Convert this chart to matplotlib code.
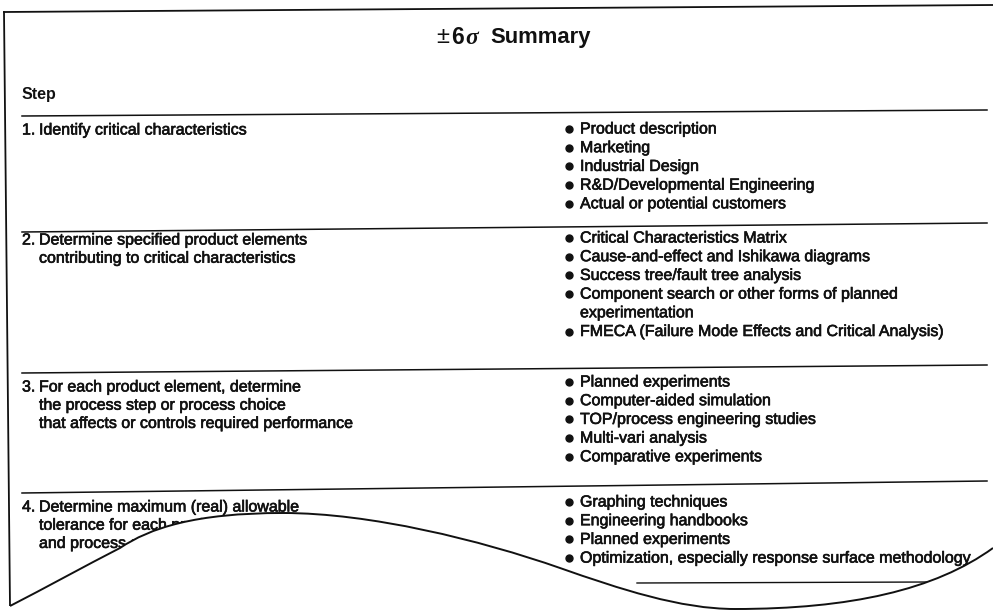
import matplotlib
matplotlib.use("Agg")
import matplotlib.pyplot as plt
import matplotlib.patheffects as pe
from matplotlib.path import Path
from matplotlib.patches import PathPatch

plt.rcParams["font.family"] = ["Liberation Sans", "DejaVu Sans"]

# ── table content ───────────────────────────────────────────────────────────
step_nums = ["1.", "2.", "3.", "4."]
step_texts = [
    ["Identify critical characteristics"],
    ["Determine specified product elements",
     "contributing to critical characteristics"],
    ["For each product element, determine",
     "the process step or process choice",
     "that affects or controls required performance"],
    ["Determine maximum (real) allowable",
     "tolerance for each product element",
     "and process step"],
]
tools = [
    ["Product description", "Marketing", "Industrial Design",
     "R&D/Developmental Engineering", "Actual or potential customers"],
    ["Critical Characteristics Matrix", "Cause-and-effect and Ishikawa diagrams",
     "Success tree/fault tree analysis",
     "Component search or other forms of planned\nexperimentation",
     "FMECA (Failure Mode Effects and Critical Analysis)"],
    ["Planned experiments", "Computer-aided simulation",
     "TOP/process engineering studies", "Multi-vari analysis",
     "Comparative experiments"],
    ["Graphing techniques", "Engineering handbooks", "Planned experiments",
     "Optimization, especially response surface methodology"],
]

# layout (pixel coordinates, y down)
W, H = 993, 610
left_y0 = [130, 240, 387, 507]     # first line of each step text
right_y0 = [129, 238, 382, 502]    # first bullet of each row
sep_lines = [((22, 116), (987, 110)),
             ((22, 232), (987, 223)),
             ((22, 373), (987, 365)),
             ((22, 493), (987, 481))]
lh_left, lh_right = 18.2, 18.7
fs = 11.5
ink = "#111111"
heavy = [pe.withStroke(linewidth=0.45, foreground=ink)]

fig = plt.figure(figsize=(W / 100, H / 100), dpi=100)
ax = fig.add_axes([0, 0, 1, 1])
ax.set_xlim(0, W)
ax.set_ylim(H, 0)
ax.axis("off")

# border
ax.plot([4, 993], [12, 5], color=ink, lw=1.3)
ax.plot([4, 10], [12, 606], color=ink, lw=1.3)

# title
ax.text(436, 37, "±", fontsize=17, va="center", ha="left", color=ink)
ax.text(451, 37, "6", fontsize=16.5, fontweight="bold", va="center", ha="left", color=ink)
ax.text(465, 38, "σ", fontsize=17, fontweight="bold", fontstyle="italic",
        family=["Liberation Serif"], va="center", ha="left", color=ink)
ax.text(490, 37, "Summary", fontsize=15.8, fontweight="bold", va="center", ha="left", color=ink)

ax.text(22, 94, "Step", fontsize=fs, fontweight="bold", va="center", color=ink)

for (x0, y0), (x1, y1) in sep_lines:
    ax.plot([x0, x1], [y0, y1], color=ink, lw=1.1)

for i, num in enumerate(step_nums):
    ax.text(22, left_y0[i], num, fontsize=fs, va="center", color=ink, path_effects=heavy)
    for j, line in enumerate(step_texts[i]):
        ax.text(39, left_y0[i] + j * lh_left, line, fontsize=fs, va="center",
                color=ink, path_effects=heavy)
    k = 0
    for item in tools[i]:
        ax.plot(569, right_y0[i] + k * lh_right, "o", color=ink, markersize=5)
        for part in item.split("\n"):
            ax.text(580, right_y0[i] + k * lh_right, part, fontsize=fs,
                    va="center", color=ink, path_effects=heavy)
            k += 1

# short rule under the last row
ax.plot([637, 930], [583, 582], color=ink, lw=1.0)

# torn bottom edge
verts = [(10, 606),
         (45, 588), (85, 566), (120, 548),
         (150, 528), (195, 513), (283, 513),
         (370, 513), (480, 540), (560, 568),
         (620, 589), (680, 609), (735, 609),
         (850, 609), (935, 590), (993, 548)]
codes = [Path.MOVETO] + [Path.CURVE4] * 15
mask = Path(verts + [(1000, 548), (1000, 620), (0, 620), (0, 606), (10, 606)],
            codes + [Path.LINETO] * 5)
ax.add_patch(PathPatch(mask, facecolor="white", edgecolor="none", zorder=5))
ax.add_patch(PathPatch(Path(verts, codes), facecolor="none", edgecolor=ink,
                       lw=1.4, zorder=6))

fig.savefig("out.png", dpi=100)
